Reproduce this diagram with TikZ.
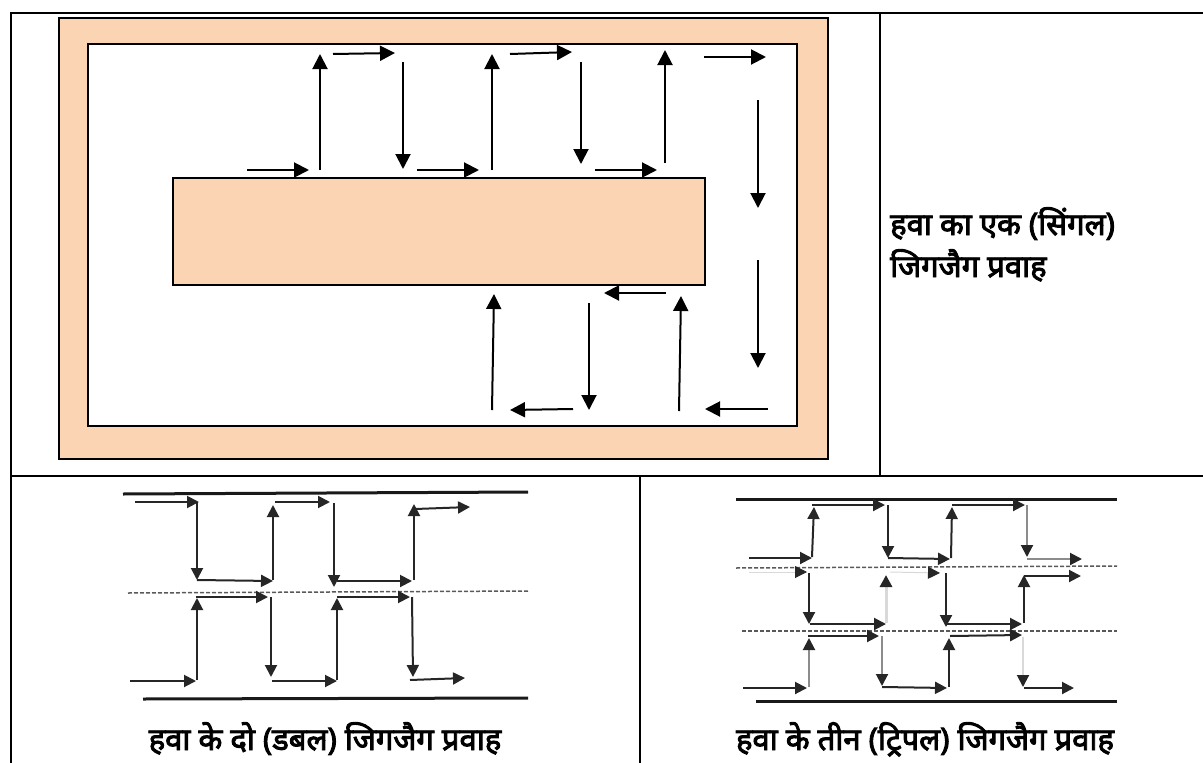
\documentclass[tikz,border=0pt]{standalone}
\usepackage{fontspec}
\newfontfamily\hindifont[Script=Devanagari, FakeBold=3]{Noto Sans}
\usetikzlibrary{arrows.meta}
\definecolor{peach}{HTML}{FBD4B4}
\tikzset{
	gridline/.style={line width=2pt, black},
	flow/.style={line width=2pt, black, -{Triangle[length=15pt, width=15pt]}},
	zig/.style={line width=2pt, black!85, -{Triangle[length=12pt, width=12pt]}},
	zigpale/.style={zig, draw=black!45, {-{Triangle[length=12pt, width=12pt,black!85]}}},
	zigfaint/.style={zig, draw=black!15, {-{Triangle[length=12pt, width=12pt,black!85]}}},
	wall/.style={line width=3pt, black!90},
	midline/.style={line width=1.5pt, black!65, dash pattern=on 4pt off 2pt},
	caption/.style={font=\hindifont\fontsize{31}{36}\selectfont, inner sep=0pt}
}

\begin{document}
\begin{tikzpicture}[x=1pt, y=-1pt]
		\useasboundingbox (0,0) rectangle (1203,763);
		% Table rules:
		\draw[gridline] (11,763) -- (11,12.5) -- (1203,12.5);
		\draw[gridline] (11,475.5) -- (1203,475.5);
		\draw[gridline] (880,12.5) -- (880,475.5);
		\draw[gridline] (640,475.5) -- (640,763);
		% Single zigzag:
		\draw[gridline, fill=peach] (59,18) rectangle (828,459);
		\draw[gridline, fill=white] (88,44) rectangle (797,426);
		\draw[gridline, fill=peach] (173,178) rectangle (705,285);
		\draw[flow] (247,170) -- (309,170);
		\draw[flow] (320,170) -- (320,54);
		\draw[flow] (333,54) -- (395,53);
		\draw[flow] (403,62) -- (403,169);
		\draw[flow] (417,170) -- (479,170);
		\draw[flow] (492,170) -- (492,54);
		\draw[flow] (510,54) -- (572,52);
		\draw[flow] (581,62) -- (581,164);
		\draw[flow] (595,170) -- (657,170);
		\draw[flow] (665,163) -- (665,50);
		\draw[flow] (704,57) -- (766,57);
		\draw[flow] (758,100) -- (758,208);
		\draw[flow] (758,260) -- (758,368);
		\draw[flow] (768,409) -- (705,409);
		\draw[flow] (679,411) -- (681,296);
		\draw[flow] (666,293) -- (604,293);
		\draw[flow] (589,303) -- (589,410);
		\draw[flow] (573,409) -- (510,410);
		\draw[flow] (492,410) -- (494,294);
		\node[caption, anchor=base west] (singleone) at (890,235) {हवा का एक (सिंगल)};
		\node[caption, anchor=base west] (singletwo) at (890,277) {जिगजैग प्रवाह};
		% Double zigzag:
		\draw[wall] (123,494) -- (528,492);
		\draw[wall] (143,699) -- (528,698);
		\draw[midline] (128,593) -- (528,591);
		\draw[zig] (135,502) -- (199,502);
		\draw[zig] (197,502) -- (197,580);
		\draw[zig] (197,580) -- (273,581);
		\draw[zig] (273,580) -- (273,505);
		\draw[zig] (275,502) -- (330,502);
		\draw[zig] (334,503) -- (334,587);
		\draw[zig] (337,581) -- (412,581);
		\draw[zig] (414,580) -- (414,504);
		\draw[zig] (415,509) -- (470,507);
		\draw[zig] (130,681) -- (196,681);
		\draw[zig] (197,680) -- (197,598);
		\draw[zig] (196,597) -- (268,597);
		\draw[zig] (271,597) -- (271,677);
		\draw[zig] (272,681) -- (337,681);
		\draw[zig] (337,680) -- (337,598);
		\draw[zig] (337,597) -- (410,597);
		\draw[zig] (412,597) -- (413,677);
		\draw[zig] (410,680) -- (465,678);
		\node[caption, anchor=base] (doublecap) at (325,750) {हवा के दो (डबल) जिगजैग प्रवाह};
		% Triple zigzag:
		\draw[wall] (736,499) -- (1117,499);
		\draw[wall] (756,701) -- (1117,701);
		\draw[midline] (736,568) -- (1117,566);
		\draw[midline] (742,631) -- (1117,631);
		\draw[zig] (749,558) -- (812,558);
		\draw[zig] (812,557) -- (814,507);
		\draw[zig] (812,505) -- (885,505);
		\draw[zig] (888,505) -- (888,558);
		\draw[zig] (888,558) -- (950,559);
		\draw[zig] (951,558) -- (952,507);
		\draw[zig] (952,505) -- (1025,505);
		\draw[zigpale] (1027,505) -- (1027,557);
		\draw[zigpale] (1027,559) -- (1082,559);
		\draw[zigfaint, line width=1pt] (749,572) -- (807,572);
		\draw[zig] (809,573) -- (809,624);
		\draw[zig] (810,624) -- (886,624);
		\draw[zigfaint, line width=3pt] (886,623) -- (886,575);
		\draw[zigfaint, line width=1pt] (890,572) -- (940,573);
		\draw[zig] (946,573) -- (946,627);
		\draw[zig] (947,624) -- (1022,624);
		\draw[zig] (1024,623) -- (1024,575);
		\draw[zig] (1024,576) -- (1081,576);
		\draw[zig] (743,688) -- (807,688);
		\draw[zigpale] (809,687) -- (809,638);
		\draw[zig] (808,636) -- (879,636);
		\draw[zigpale] (882,636) -- (882,686);
		\draw[zig] (882,687) -- (947,688);
		\draw[zig] (949,687) -- (949,638);
		\draw[zig] (950,636) -- (1022,635);
		\draw[zigfaint, line width=2pt] (1023,637) -- (1023,687);
		\draw[zig] (1024,688) -- (1074,688);
		\node[caption, anchor=base] (triplecap) at (925,750) {हवा के तीन (ट्रिपल) जिगजैग प्रवाह};
	\end{tikzpicture}
\end{document}
